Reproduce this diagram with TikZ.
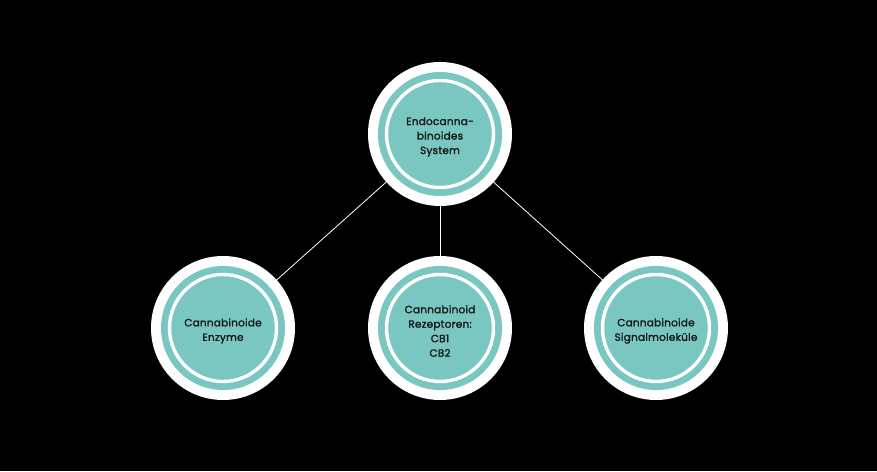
\documentclass[tikz,border=0pt]{standalone}
\usepackage{fontspec}
\newfontfamily\hubfont{Poppins}[FakeBold=1.6, LetterSpace=2]
\usepackage{tikz}
\pgfdeclarelayer{back}
\pgfdeclarelayer{lines}
\pgfdeclarelayer{bg}
\pgfsetlayers{back,lines,bg,main}
\definecolor{esteal}{RGB}{122,199,194}
\definecolor{estext}{RGB}{20,24,24}
\tikzset{
  hub/.style={circle, fill=esteal, draw=white, line width=3.4pt,
    minimum size=107pt, inner sep=0pt},
  hubtext/.style={align=center, text=estext, inner sep=0pt,
    font=\hubfont\fontsize{10.5}{14.5}\selectfont},
  link/.style={white, line width=0.8pt}
}

\begin{document}
\begin{tikzpicture}[x=1pt, y=1pt]
                        \begin{pgfonlayer}{back}
                            \fill[black] (0,0) rectangle (877,471);
                        \end{pgfonlayer}
                        \useasboundingbox (0,0) rectangle (877,471);

                        \node[hub] (sys) at (440,337) {};
                        \node[hub] (enz) at (223,143) {};
                        \node[hub] (rez) at (440,143) {};
                        \node[hub] (sig) at (656,143) {};

                        \node[hubtext] (sys-t) at ([yshift=-3]sys.center) {Endocanna-\\binoides\\System};
                        \node[hubtext] (enz-t) at ([yshift=-3]enz.center) {Cannabinoide\\Enzyme};
                        \node[hubtext] (rez-t) at ([yshift=-3]rez.center) {Cannabinoid\\Rezeptoren:\\CB1\\CB2};
                        \node[hubtext] (sig-t) at ([yshift=-3]sig.center) {Cannabinoide\\Signalmoleküle};

                        % rings behind the nodes
                        \begin{pgfonlayer}{bg}
                            \foreach \n in {sys,enz,rez,sig} {
                                \fill[white] (\n.center) circle (72);
                                \fill[esteal] (\n.center) circle (62);
                            }
                        \end{pgfonlayer}

                        \begin{pgfonlayer}{lines}
                            \draw[link] (sys.center) -- (enz.center);
                            \draw[link] (sys.center) -- (rez.center);
                            \draw[link] (sys.center) -- (sig.center);
                        \end{pgfonlayer}
                    \end{tikzpicture}
\end{document}
